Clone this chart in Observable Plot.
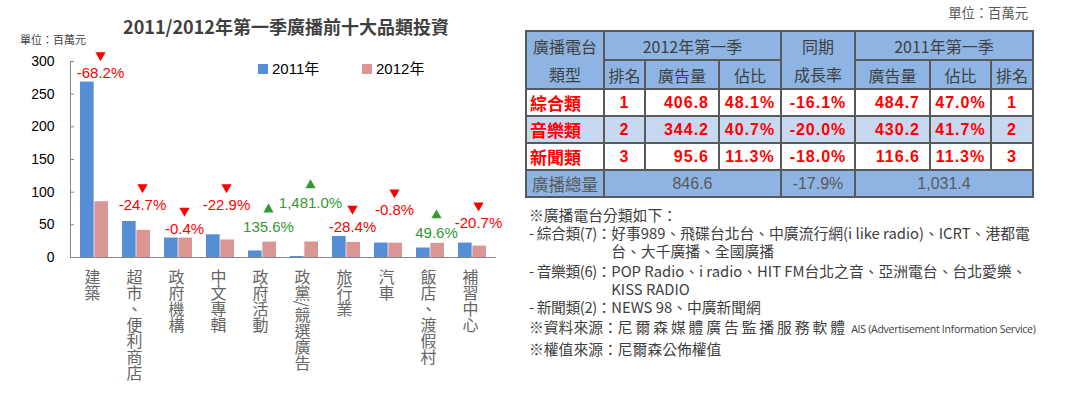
<!DOCTYPE html>
<html><head><meta charset="utf-8">
<script src="https://cdn.jsdelivr.net/npm/d3@7"></script>
<script src="https://cdn.jsdelivr.net/npm/@observablehq/plot@0.6"></script>
<style>
body{margin:0;width:1087px;height:395px;position:relative;background:#fff;overflow:hidden;font-family:"Noto Sans CJK TC","Noto Sans",sans-serif;}
#title{position:absolute;left:0;width:572px;top:13px;text-align:center;font-size:18px;font-weight:bold;color:#404040;line-height:26px;}
#unitL{position:absolute;left:20px;top:31px;font-size:11px;color:#404040;line-height:16px;}
#legend{position:absolute;left:0;top:0;}
.lg-sw{position:absolute;width:10px;height:10px;}
.lg-tx{position:absolute;font-family:Arial,"Liberation Sans",sans-serif;font-size:15px;color:#000;line-height:18px;white-space:nowrap;}
.lg-tx span{font-family:"Noto Sans CJK TC";}
#chart{position:absolute;left:0;top:45px;}
#unitR{position:absolute;right:59px;top:4px;font-size:13.3px;color:#595959;line-height:18px;}
#tbl{position:absolute;left:525px;top:30px;width:507px;border-collapse:collapse;table-layout:fixed;}
#tbl td{border:2px solid #595959;padding:0;text-align:center;height:25px;line-height:24px;white-space:nowrap;overflow:hidden;}
#tbl td.h{background:#8DB4E2;color:#404040;font-size:16px;}
#tbl td.n{font-family:Arial,"Liberation Sans",sans-serif;font-weight:bold;color:#FF0000;font-size:16px;letter-spacing:1px;}
#tbl td.r{text-align:right;padding-right:9px;}
#tbl td.c{text-align:left;padding-left:3px;font-weight:bold;color:#FF0000;font-size:17px;}
#tbl tr.alt td{background:#C6D9F1;}
#tbl tr.tot td{background:#8DB4E2;color:#595959;font-family:Arial,"Liberation Sans",sans-serif;font-size:16px;}
#tbl tr.tot td.tl{font-family:"Noto Sans CJK TC";text-align:left;padding-left:5px;font-size:16.5px;}
#notes{position:absolute;left:529px;top:206px;font-size:14.8px;color:#404040;line-height:18px;white-space:nowrap;}
#notes .pre{letter-spacing:-0.4px;}
#notes .ind{padding-left:84px;}
#notes .gap{margin-top:2px;}
#notes .wide{letter-spacing:2.9px;}
#notes .sm{font-family:"Open Sans",sans-serif;font-size:10.6px;letter-spacing:-0.3px;}
</style></head><body>
<div id="title">2011/2012年第一季廣播前十大品類投資</div>
<div id="unitL">單位：百萬元</div>
<div id="legend"></div>
<div id="chart"></div>
<div id="unitR">單位：百萬元</div>
<table id="tbl"></table>
<div id="notes">
<div>※廣播電台分類如下：</div>
<div><span class="pre">- 綜合類(7)：</span>好事989、飛碟台北台、中廣流行網(i like radio)、ICRT、港都電</div>
<div class="ind">台、大千廣播、全國廣播</div>
<div class="gap"><span class="pre">- 音樂類(6)：</span>POP Radio、i radio、HIT FM台北之音、亞洲電台、台北愛樂、</div>
<div class="ind">KISS RADIO</div>
<div><span class="pre">- 新聞類(2)：</span>NEWS 98、中廣新聞網</div>
<div class="gap">※資料來源：<span class="wide">尼爾森媒體廣告監播服務軟體</span> <span class="sm">AIS (Advertisement Information Service)</span></div>
<div class="gap">※權值來源：尼爾森公佈權值</div>
</div>
<script>
// ---- chart data ----
const categories = ["建築","超市、便利商店","政府機構","中文專輯","政府活動","政黨/競選廣告","旅行業","汽車","飯店、渡假村","補習中心"];
const series = ["2011年","2012年"];
const seriesColors = ["#558ED5","#D99694"];
const values2011 = [268.5, 55.1, 29.8, 34.8, 10.0, 1.5, 32.2, 22.1, 14.5, 22.1];
const values2012 = [85.4, 41.5, 29.7, 26.8, 23.6, 23.7, 23.1, 21.9, 21.7, 17.5];
const growth = [-68.2, -24.7, -0.4, -22.9, 135.6, 1481.0, -28.4, -0.8, 49.6, -20.7];
const labelLevel = [282, 80, 44, 80, 46, 83, 47, 72, 37, 52];
const yTicks = [0, 50, 100, 150, 200, 250, 300];

// ---- table data ----
const stationTypes = ["綜合類","音樂類","新聞類"];
const rank2012 = [1, 2, 3];
const ad2012 = ["406.8","344.2","95.6"];
const share2012 = ["48.1%","40.7%","11.3%"];
const typeGrowth = ["-16.1%","-20.0%","-18.0%"];
const ad2011 = ["484.7","430.2","116.6"];
const share2011 = ["47.0%","41.7%","11.3%"];
const rank2011 = [1, 2, 3];
const totals = {label: "廣播總量", y2012: "846.6", growth: "-17.9%", y2011: "1,031.4"};

// hanging indent matches prefix width
const preW = document.querySelector("#notes .pre").getBoundingClientRect().width;
document.querySelectorAll("#notes .ind").forEach(el => el.style.paddingLeft = preW + "px");

// legend
const lg = document.getElementById("legend");
const lgPos = [258, 362];
series.forEach((s, i) => {
  const sw = document.createElement("div");
  sw.className = "lg-sw"; sw.style.left = lgPos[i] + "px"; sw.style.top = "64px"; sw.style.background = seriesColors[i];
  const tx = document.createElement("div");
  tx.className = "lg-tx"; tx.style.left = (lgPos[i] + 14) + "px"; tx.style.top = "59px";
  tx.innerHTML = s.replace("年", "<span>年</span>");
  lg.appendChild(sw); lg.appendChild(tx);
});

const rows = categories.flatMap((c, i) => [
  {cat: c, series: series[0], value: values2011[i]},
  {cat: c, series: series[1], value: values2012[i]}
]);
const annots = categories.map((c, i) => ({cat: c, growth: growth[i], level: labelLevel[i]}));
const neg = annots.filter(d => d.growth < 0);
const pos = annots.filter(d => d.growth >= 0);
const fmt = d3.formatLocale({decimal: ".", thousands: ",", grouping: [3], currency: ["", ""], minus: "-"}).format(",.1f");

const W = 520, mL = 70, mR = 24;
const pIn = 0.33, pOut = 0.14;
const xb = d3.scaleBand(categories, [mL, W - mR]).paddingInner(pIn).paddingOuter(pOut);
const half = xb.bandwidth() / 2;
const RED = "#FF0000", GREEN = "#339933";

const plot = Plot.plot({
  width: W, height: 350,
  marginTop: 16, marginBottom: 138, marginLeft: mL, marginRight: mR,
  style: {fontFamily: "Arial, 'Liberation Sans', sans-serif", fontSize: "14px", color: "#000", background: "transparent", overflow: "visible"},
  x: {domain: categories, paddingInner: pIn, paddingOuter: pOut, label: null},
  y: {domain: [0, 300], label: null},
  color: {domain: series, range: seriesColors},
  marks: [
    Plot.barY(rows.filter(d => d.series === series[0]), {x: "cat", y: "value", fill: "series", insetRight: half}),
    Plot.barY(rows.filter(d => d.series === series[1]), {x: "cat", y: "value", fill: "series", insetLeft: half}),
    Plot.ruleY([0], {stroke: "#868686"}),
    Plot.frame({anchor: "left", stroke: "#868686"}),
    Plot.axisY({ticks: yTicks, tickSize: -4, tickPadding: 20, stroke: "#868686", fill: "#000", fontSize: 14, label: null}),
    Plot.axisX({tickSize: 0, tickPadding: 11, fontSize: 16, fill: "#666666", textAnchor: "start", label: null, fontFamily: "Noto Sans CJK TC", dx: -2}),
    Plot.text(neg, {x: "cat", y: "level", text: d => fmt(d.growth) + "%", fill: RED, fontSize: 15, dx: 6}),
    Plot.text(pos, {x: "cat", y: "level", text: d => fmt(d.growth) + "%", fill: GREEN, fontSize: 15, dx: 6}),
    Plot.dot(neg, {x: "cat", y: "level", symbol: "triangle", rotate: 180, r: 3.8, fill: RED, stroke: null, dx: 6, dy: -18}),
    Plot.dot(pos, {x: "cat", y: "level", symbol: "triangle", r: 3.8, fill: GREEN, stroke: null, dx: 6, dy: -18})
  ]
});
document.getElementById("chart").appendChild(plot);
plot.querySelectorAll('g[aria-label="x-axis tick label"] text').forEach(t => {
  t.removeAttribute("y"); t.removeAttribute("dy");
  t.setAttribute("text-anchor", "start");
  t.style.writingMode = "vertical-rl";
  t.style.textOrientation = "mixed";
});

// table
const tbl = document.getElementById("tbl");
const colW = [78, 41, 74, 62, 74, 75, 61, 42];
let html = "<colgroup>" + colW.map(w => `<col style="width:${w}px">`).join("") + "</colgroup>";
html += `<tr><td class="h" rowspan="2" style="line-height:28px">廣播電台<br>類型</td><td class="h" colspan="3">2012年第一季</td><td class="h" rowspan="2" style="line-height:28px">同期<br>成長率</td><td class="h" colspan="3">2011年第一季</td></tr>`;
html += `<tr><td class="h">排名</td><td class="h">廣告量</td><td class="h">佔比</td><td class="h">廣告量</td><td class="h">佔比</td><td class="h">排名</td></tr>`;
stationTypes.forEach((s, i) => {
  html += `<tr${i === 1 ? ' class="alt"' : ''}><td class="c">${s}</td><td class="n">${rank2012[i]}</td><td class="n r">${ad2012[i]}</td><td class="n">${share2012[i]}</td><td class="n">${typeGrowth[i]}</td><td class="n r">${ad2011[i]}</td><td class="n">${share2011[i]}</td><td class="n">${rank2011[i]}</td></tr>`;
});
html += `<tr class="tot"><td class="tl">${totals.label}</td><td colspan="3">${totals.y2012}</td><td>${totals.growth}</td><td colspan="3">${totals.y2011}</td></tr>`;
tbl.innerHTML = html;
</script>
</body></html>
